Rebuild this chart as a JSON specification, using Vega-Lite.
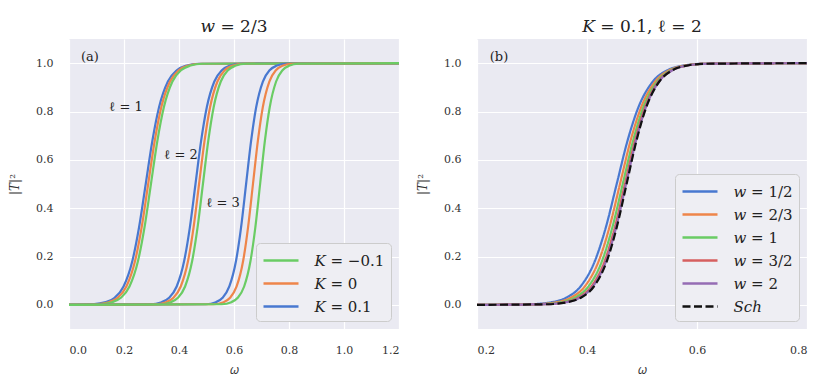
{
  "$schema": "https://vega.github.io/schema/vega-lite/v6.json",
  "background": "white",
  "padding": {"left": 8, "top": 18, "right": 5, "bottom": 5},
  "spacing": 17,
  "resolve": {"scale": {"color": "independent", "strokeDash": "independent"}, "legend": {"color": "independent", "strokeDash": "independent"}},
  "config": {
    "view": {"fill": "#EAEAF2", "stroke": null},
    "font": "DejaVu Serif",
    "axis": {"grid": true, "gridColor": "white", "gridWidth": 1.2, "domain": false, "ticks": false, "labelFont": "DejaVu Serif", "labelFontSize": 11, "labelColor": "#333333", "titleFont": "DejaVu Serif", "titleFontSize": 12, "titleFontWeight": "normal", "titleColor": "#333333"},
    "axisX": {"labelPadding": 15, "titlePadding": 9},
    "axisY": {"labelPadding": 16, "titlePadding": 14},
    "legend": {"orient": "bottom-right", "offset": 8, "fillColor": "#EEEEF3", "strokeColor": "#CCCCCC", "cornerRadius": 4, "padding": 6, "symbolType": "M-1.75,0H1.75", "symbolSize": 400, "symbolOffset": 7.5, "symbolStrokeWidth": 2.5, "labelFont": "DejaVu Serif", "labelFontSize": 15, "labelColor": "#222222", "rowPadding": 3, "labelOffset": 22},
    "title": {"font": "DejaVu Serif", "fontSize": 17, "fontWeight": "normal", "color": "#222222", "offset": 3}
  },
  "datasets": {
    "panelA": [
      {"K": "𝐾 = 0.1", "ell": 1, "omega": 0, "T2": 0},
      {"K": "𝐾 = 0.1", "ell": 1, "omega": 0.0855, "T2": 0.0025},
      {"K": "𝐾 = 0.1", "ell": 1, "omega": 0.1338, "T2": 0.011},
      {"K": "𝐾 = 0.1", "ell": 1, "omega": 0.1661, "T2": 0.0293},
      {"K": "𝐾 = 0.1", "ell": 1, "omega": 0.1984, "T2": 0.0759},
      {"K": "𝐾 = 0.1", "ell": 1, "omega": 0.2306, "T2": 0.1824},
      {"K": "𝐾 = 0.1", "ell": 1, "omega": 0.2548, "T2": 0.3208},
      {"K": "𝐾 = 0.1", "ell": 1, "omega": 0.279, "T2": 0.5},
      {"K": "𝐾 = 0.1", "ell": 1, "omega": 0.3032, "T2": 0.6792},
      {"K": "𝐾 = 0.1", "ell": 1, "omega": 0.3274, "T2": 0.8176},
      {"K": "𝐾 = 0.1", "ell": 1, "omega": 0.3596, "T2": 0.9241},
      {"K": "𝐾 = 0.1", "ell": 1, "omega": 0.3919, "T2": 0.9707},
      {"K": "𝐾 = 0.1", "ell": 1, "omega": 0.4242, "T2": 0.989},
      {"K": "𝐾 = 0.1", "ell": 1, "omega": 0.4725, "T2": 0.9975},
      {"K": "𝐾 = 0.1", "ell": 1, "omega": 1.2, "T2": 1},
      {"K": "𝐾 = 0", "ell": 1, "omega": 0, "T2": 0},
      {"K": "𝐾 = 0", "ell": 1, "omega": 0.0975, "T2": 0.0025},
      {"K": "𝐾 = 0", "ell": 1, "omega": 0.1451, "T2": 0.011},
      {"K": "𝐾 = 0", "ell": 1, "omega": 0.1769, "T2": 0.0293},
      {"K": "𝐾 = 0", "ell": 1, "omega": 0.2086, "T2": 0.0759},
      {"K": "𝐾 = 0", "ell": 1, "omega": 0.2404, "T2": 0.1824},
      {"K": "𝐾 = 0", "ell": 1, "omega": 0.2642, "T2": 0.3208},
      {"K": "𝐾 = 0", "ell": 1, "omega": 0.288, "T2": 0.5},
      {"K": "𝐾 = 0", "ell": 1, "omega": 0.3118, "T2": 0.6792},
      {"K": "𝐾 = 0", "ell": 1, "omega": 0.3356, "T2": 0.8176},
      {"K": "𝐾 = 0", "ell": 1, "omega": 0.3674, "T2": 0.9241},
      {"K": "𝐾 = 0", "ell": 1, "omega": 0.3991, "T2": 0.9707},
      {"K": "𝐾 = 0", "ell": 1, "omega": 0.4309, "T2": 0.989},
      {"K": "𝐾 = 0", "ell": 1, "omega": 0.4785, "T2": 0.9975},
      {"K": "𝐾 = 0", "ell": 1, "omega": 1.2, "T2": 1},
      {"K": "𝐾 = −0.1", "ell": 1, "omega": 0, "T2": 0},
      {"K": "𝐾 = −0.1", "ell": 1, "omega": 0.1105, "T2": 0.0025},
      {"K": "𝐾 = −0.1", "ell": 1, "omega": 0.1574, "T2": 0.011},
      {"K": "𝐾 = −0.1", "ell": 1, "omega": 0.1886, "T2": 0.0293},
      {"K": "𝐾 = −0.1", "ell": 1, "omega": 0.2199, "T2": 0.0759},
      {"K": "𝐾 = −0.1", "ell": 1, "omega": 0.2511, "T2": 0.1824},
      {"K": "𝐾 = −0.1", "ell": 1, "omega": 0.2746, "T2": 0.3208},
      {"K": "𝐾 = −0.1", "ell": 1, "omega": 0.298, "T2": 0.5},
      {"K": "𝐾 = −0.1", "ell": 1, "omega": 0.3214, "T2": 0.6792},
      {"K": "𝐾 = −0.1", "ell": 1, "omega": 0.3449, "T2": 0.8176},
      {"K": "𝐾 = −0.1", "ell": 1, "omega": 0.3761, "T2": 0.9241},
      {"K": "𝐾 = −0.1", "ell": 1, "omega": 0.4074, "T2": 0.9707},
      {"K": "𝐾 = −0.1", "ell": 1, "omega": 0.4386, "T2": 0.989},
      {"K": "𝐾 = −0.1", "ell": 1, "omega": 0.4855, "T2": 0.9975},
      {"K": "𝐾 = −0.1", "ell": 1, "omega": 1.2, "T2": 1},
      {"K": "𝐾 = 0.1", "ell": 2, "omega": 0, "T2": 0},
      {"K": "𝐾 = 0.1", "ell": 2, "omega": 0.2956, "T2": 0.0025},
      {"K": "𝐾 = 0.1", "ell": 2, "omega": 0.3367, "T2": 0.011},
      {"K": "𝐾 = 0.1", "ell": 2, "omega": 0.3641, "T2": 0.0293},
      {"K": "𝐾 = 0.1", "ell": 2, "omega": 0.3915, "T2": 0.0759},
      {"K": "𝐾 = 0.1", "ell": 2, "omega": 0.4189, "T2": 0.1824},
      {"K": "𝐾 = 0.1", "ell": 2, "omega": 0.4395, "T2": 0.3208},
      {"K": "𝐾 = 0.1", "ell": 2, "omega": 0.46, "T2": 0.5},
      {"K": "𝐾 = 0.1", "ell": 2, "omega": 0.4805, "T2": 0.6792},
      {"K": "𝐾 = 0.1", "ell": 2, "omega": 0.5011, "T2": 0.8176},
      {"K": "𝐾 = 0.1", "ell": 2, "omega": 0.5285, "T2": 0.9241},
      {"K": "𝐾 = 0.1", "ell": 2, "omega": 0.5559, "T2": 0.9707},
      {"K": "𝐾 = 0.1", "ell": 2, "omega": 0.5833, "T2": 0.989},
      {"K": "𝐾 = 0.1", "ell": 2, "omega": 0.6244, "T2": 0.9975},
      {"K": "𝐾 = 0.1", "ell": 2, "omega": 1.2, "T2": 1},
      {"K": "𝐾 = 0", "ell": 2, "omega": 0, "T2": 0},
      {"K": "𝐾 = 0", "ell": 2, "omega": 0.313, "T2": 0.0025},
      {"K": "𝐾 = 0", "ell": 2, "omega": 0.353, "T2": 0.011},
      {"K": "𝐾 = 0", "ell": 2, "omega": 0.3797, "T2": 0.0293},
      {"K": "𝐾 = 0", "ell": 2, "omega": 0.4063, "T2": 0.0759},
      {"K": "𝐾 = 0", "ell": 2, "omega": 0.433, "T2": 0.1824},
      {"K": "𝐾 = 0", "ell": 2, "omega": 0.453, "T2": 0.3208},
      {"K": "𝐾 = 0", "ell": 2, "omega": 0.473, "T2": 0.5},
      {"K": "𝐾 = 0", "ell": 2, "omega": 0.493, "T2": 0.6792},
      {"K": "𝐾 = 0", "ell": 2, "omega": 0.513, "T2": 0.8176},
      {"K": "𝐾 = 0", "ell": 2, "omega": 0.5397, "T2": 0.9241},
      {"K": "𝐾 = 0", "ell": 2, "omega": 0.5663, "T2": 0.9707},
      {"K": "𝐾 = 0", "ell": 2, "omega": 0.593, "T2": 0.989},
      {"K": "𝐾 = 0", "ell": 2, "omega": 0.633, "T2": 0.9975},
      {"K": "𝐾 = 0", "ell": 2, "omega": 1.2, "T2": 1},
      {"K": "𝐾 = −0.1", "ell": 2, "omega": 0, "T2": 0},
      {"K": "𝐾 = −0.1", "ell": 2, "omega": 0.3312, "T2": 0.0025},
      {"K": "𝐾 = −0.1", "ell": 2, "omega": 0.3701, "T2": 0.011},
      {"K": "𝐾 = −0.1", "ell": 2, "omega": 0.3961, "T2": 0.0293},
      {"K": "𝐾 = −0.1", "ell": 2, "omega": 0.4221, "T2": 0.0759},
      {"K": "𝐾 = −0.1", "ell": 2, "omega": 0.448, "T2": 0.1824},
      {"K": "𝐾 = −0.1", "ell": 2, "omega": 0.4675, "T2": 0.3208},
      {"K": "𝐾 = −0.1", "ell": 2, "omega": 0.487, "T2": 0.5},
      {"K": "𝐾 = −0.1", "ell": 2, "omega": 0.5065, "T2": 0.6792},
      {"K": "𝐾 = −0.1", "ell": 2, "omega": 0.526, "T2": 0.8176},
      {"K": "𝐾 = −0.1", "ell": 2, "omega": 0.5519, "T2": 0.9241},
      {"K": "𝐾 = −0.1", "ell": 2, "omega": 0.5779, "T2": 0.9707},
      {"K": "𝐾 = −0.1", "ell": 2, "omega": 0.6039, "T2": 0.989},
      {"K": "𝐾 = −0.1", "ell": 2, "omega": 0.6428, "T2": 0.9975},
      {"K": "𝐾 = −0.1", "ell": 2, "omega": 1.2, "T2": 1},
      {"K": "𝐾 = 0.1", "ell": 3, "omega": 0, "T2": 0},
      {"K": "𝐾 = 0.1", "ell": 3, "omega": 0.4977, "T2": 0.0025},
      {"K": "𝐾 = 0.1", "ell": 3, "omega": 0.5342, "T2": 0.011},
      {"K": "𝐾 = 0.1", "ell": 3, "omega": 0.5586, "T2": 0.0293},
      {"K": "𝐾 = 0.1", "ell": 3, "omega": 0.583, "T2": 0.0759},
      {"K": "𝐾 = 0.1", "ell": 3, "omega": 0.6074, "T2": 0.1824},
      {"K": "𝐾 = 0.1", "ell": 3, "omega": 0.6257, "T2": 0.3208},
      {"K": "𝐾 = 0.1", "ell": 3, "omega": 0.644, "T2": 0.5},
      {"K": "𝐾 = 0.1", "ell": 3, "omega": 0.6623, "T2": 0.6792},
      {"K": "𝐾 = 0.1", "ell": 3, "omega": 0.6806, "T2": 0.8176},
      {"K": "𝐾 = 0.1", "ell": 3, "omega": 0.705, "T2": 0.9241},
      {"K": "𝐾 = 0.1", "ell": 3, "omega": 0.7294, "T2": 0.9707},
      {"K": "𝐾 = 0.1", "ell": 3, "omega": 0.7538, "T2": 0.989},
      {"K": "𝐾 = 0.1", "ell": 3, "omega": 0.7903, "T2": 0.9975},
      {"K": "𝐾 = 0.1", "ell": 3, "omega": 1.2, "T2": 1},
      {"K": "𝐾 = 0", "ell": 3, "omega": 0, "T2": 0},
      {"K": "𝐾 = 0", "ell": 3, "omega": 0.5261, "T2": 0.0025},
      {"K": "𝐾 = 0", "ell": 3, "omega": 0.5619, "T2": 0.011},
      {"K": "𝐾 = 0", "ell": 3, "omega": 0.5857, "T2": 0.0293},
      {"K": "𝐾 = 0", "ell": 3, "omega": 0.6095, "T2": 0.0759},
      {"K": "𝐾 = 0", "ell": 3, "omega": 0.6333, "T2": 0.1824},
      {"K": "𝐾 = 0", "ell": 3, "omega": 0.6511, "T2": 0.3208},
      {"K": "𝐾 = 0", "ell": 3, "omega": 0.669, "T2": 0.5},
      {"K": "𝐾 = 0", "ell": 3, "omega": 0.6869, "T2": 0.6792},
      {"K": "𝐾 = 0", "ell": 3, "omega": 0.7047, "T2": 0.8176},
      {"K": "𝐾 = 0", "ell": 3, "omega": 0.7285, "T2": 0.9241},
      {"K": "𝐾 = 0", "ell": 3, "omega": 0.7523, "T2": 0.9707},
      {"K": "𝐾 = 0", "ell": 3, "omega": 0.7761, "T2": 0.989},
      {"K": "𝐾 = 0", "ell": 3, "omega": 0.8119, "T2": 0.9975},
      {"K": "𝐾 = 0", "ell": 3, "omega": 1.2, "T2": 1},
      {"K": "𝐾 = −0.1", "ell": 3, "omega": 0, "T2": 0},
      {"K": "𝐾 = −0.1", "ell": 3, "omega": 0.5555, "T2": 0.0025},
      {"K": "𝐾 = −0.1", "ell": 3, "omega": 0.5903, "T2": 0.011},
      {"K": "𝐾 = −0.1", "ell": 3, "omega": 0.6136, "T2": 0.0293},
      {"K": "𝐾 = −0.1", "ell": 3, "omega": 0.6369, "T2": 0.0759},
      {"K": "𝐾 = −0.1", "ell": 3, "omega": 0.6601, "T2": 0.1824},
      {"K": "𝐾 = −0.1", "ell": 3, "omega": 0.6776, "T2": 0.3208},
      {"K": "𝐾 = −0.1", "ell": 3, "omega": 0.695, "T2": 0.5},
      {"K": "𝐾 = −0.1", "ell": 3, "omega": 0.7124, "T2": 0.6792},
      {"K": "𝐾 = −0.1", "ell": 3, "omega": 0.7299, "T2": 0.8176},
      {"K": "𝐾 = −0.1", "ell": 3, "omega": 0.7531, "T2": 0.9241},
      {"K": "𝐾 = −0.1", "ell": 3, "omega": 0.7764, "T2": 0.9707},
      {"K": "𝐾 = −0.1", "ell": 3, "omega": 0.7997, "T2": 0.989},
      {"K": "𝐾 = −0.1", "ell": 3, "omega": 0.8345, "T2": 0.9975},
      {"K": "𝐾 = −0.1", "ell": 3, "omega": 1.2, "T2": 1}
    ],
    "panelB": [
      {"model": "𝑤 = 1/2", "omega": 0.2, "T2": 0},
      {"model": "𝑤 = 1/2", "omega": 0.2961, "T2": 0.0025},
      {"model": "𝑤 = 1/2", "omega": 0.3356, "T2": 0.011},
      {"model": "𝑤 = 1/2", "omega": 0.3619, "T2": 0.0293},
      {"model": "𝑤 = 1/2", "omega": 0.3882, "T2": 0.0759},
      {"model": "𝑤 = 1/2", "omega": 0.4145, "T2": 0.1824},
      {"model": "𝑤 = 1/2", "omega": 0.4343, "T2": 0.3208},
      {"model": "𝑤 = 1/2", "omega": 0.454, "T2": 0.5},
      {"model": "𝑤 = 1/2", "omega": 0.4737, "T2": 0.6792},
      {"model": "𝑤 = 1/2", "omega": 0.4935, "T2": 0.8176},
      {"model": "𝑤 = 1/2", "omega": 0.5198, "T2": 0.9241},
      {"model": "𝑤 = 1/2", "omega": 0.5461, "T2": 0.9707},
      {"model": "𝑤 = 1/2", "omega": 0.5724, "T2": 0.989},
      {"model": "𝑤 = 1/2", "omega": 0.6119, "T2": 0.9975},
      {"model": "𝑤 = 1/2", "omega": 0.8, "T2": 1},
      {"model": "𝑤 = 2/3", "omega": 0.2, "T2": 0},
      {"model": "𝑤 = 2/3", "omega": 0.3062, "T2": 0.0025},
      {"model": "𝑤 = 2/3", "omega": 0.3446, "T2": 0.011},
      {"model": "𝑤 = 2/3", "omega": 0.3703, "T2": 0.0293},
      {"model": "𝑤 = 2/3", "omega": 0.3959, "T2": 0.0759},
      {"model": "𝑤 = 2/3", "omega": 0.4215, "T2": 0.1824},
      {"model": "𝑤 = 2/3", "omega": 0.4408, "T2": 0.3208},
      {"model": "𝑤 = 2/3", "omega": 0.46, "T2": 0.5},
      {"model": "𝑤 = 2/3", "omega": 0.4792, "T2": 0.6792},
      {"model": "𝑤 = 2/3", "omega": 0.4985, "T2": 0.8176},
      {"model": "𝑤 = 2/3", "omega": 0.5241, "T2": 0.9241},
      {"model": "𝑤 = 2/3", "omega": 0.5497, "T2": 0.9707},
      {"model": "𝑤 = 2/3", "omega": 0.5754, "T2": 0.989},
      {"model": "𝑤 = 2/3", "omega": 0.6138, "T2": 0.9975},
      {"model": "𝑤 = 2/3", "omega": 0.8, "T2": 1},
      {"model": "𝑤 = 1", "omega": 0.2, "T2": 0},
      {"model": "𝑤 = 1", "omega": 0.315, "T2": 0.0025},
      {"model": "𝑤 = 1", "omega": 0.3525, "T2": 0.011},
      {"model": "𝑤 = 1", "omega": 0.3775, "T2": 0.0293},
      {"model": "𝑤 = 1", "omega": 0.4025, "T2": 0.0759},
      {"model": "𝑤 = 1", "omega": 0.4275, "T2": 0.1824},
      {"model": "𝑤 = 1", "omega": 0.4462, "T2": 0.3208},
      {"model": "𝑤 = 1", "omega": 0.465, "T2": 0.5},
      {"model": "𝑤 = 1", "omega": 0.4838, "T2": 0.6792},
      {"model": "𝑤 = 1", "omega": 0.5025, "T2": 0.8176},
      {"model": "𝑤 = 1", "omega": 0.5275, "T2": 0.9241},
      {"model": "𝑤 = 1", "omega": 0.5525, "T2": 0.9707},
      {"model": "𝑤 = 1", "omega": 0.5775, "T2": 0.989},
      {"model": "𝑤 = 1", "omega": 0.615, "T2": 0.9975},
      {"model": "𝑤 = 1", "omega": 0.8, "T2": 1},
      {"model": "𝑤 = 3/2", "omega": 0.2, "T2": 0},
      {"model": "𝑤 = 3/2", "omega": 0.3227, "T2": 0.0025},
      {"model": "𝑤 = 3/2", "omega": 0.3592, "T2": 0.011},
      {"model": "𝑤 = 3/2", "omega": 0.3836, "T2": 0.0293},
      {"model": "𝑤 = 3/2", "omega": 0.408, "T2": 0.0759},
      {"model": "𝑤 = 3/2", "omega": 0.4324, "T2": 0.1824},
      {"model": "𝑤 = 3/2", "omega": 0.4507, "T2": 0.3208},
      {"model": "𝑤 = 3/2", "omega": 0.469, "T2": 0.5},
      {"model": "𝑤 = 3/2", "omega": 0.4873, "T2": 0.6792},
      {"model": "𝑤 = 3/2", "omega": 0.5056, "T2": 0.8176},
      {"model": "𝑤 = 3/2", "omega": 0.53, "T2": 0.9241},
      {"model": "𝑤 = 3/2", "omega": 0.5544, "T2": 0.9707},
      {"model": "𝑤 = 3/2", "omega": 0.5788, "T2": 0.989},
      {"model": "𝑤 = 3/2", "omega": 0.6153, "T2": 0.9975},
      {"model": "𝑤 = 3/2", "omega": 0.8, "T2": 1},
      {"model": "𝑤 = 2", "omega": 0.2, "T2": 0},
      {"model": "𝑤 = 2", "omega": 0.3264, "T2": 0.0025},
      {"model": "𝑤 = 2", "omega": 0.3626, "T2": 0.011},
      {"model": "𝑤 = 2", "omega": 0.3867, "T2": 0.0293},
      {"model": "𝑤 = 2", "omega": 0.4108, "T2": 0.0759},
      {"model": "𝑤 = 2", "omega": 0.4349, "T2": 0.1824},
      {"model": "𝑤 = 2", "omega": 0.4529, "T2": 0.3208},
      {"model": "𝑤 = 2", "omega": 0.471, "T2": 0.5},
      {"model": "𝑤 = 2", "omega": 0.4891, "T2": 0.6792},
      {"model": "𝑤 = 2", "omega": 0.5071, "T2": 0.8176},
      {"model": "𝑤 = 2", "omega": 0.5312, "T2": 0.9241},
      {"model": "𝑤 = 2", "omega": 0.5553, "T2": 0.9707},
      {"model": "𝑤 = 2", "omega": 0.5794, "T2": 0.989},
      {"model": "𝑤 = 2", "omega": 0.6156, "T2": 0.9975},
      {"model": "𝑤 = 2", "omega": 0.8, "T2": 1},
      {"model": "𝑆𝑐ℎ", "omega": 0.2, "T2": 0},
      {"model": "𝑆𝑐ℎ", "omega": 0.3291, "T2": 0.0025},
      {"model": "𝑆𝑐ℎ", "omega": 0.3649, "T2": 0.011},
      {"model": "𝑆𝑐ℎ", "omega": 0.3887, "T2": 0.0293},
      {"model": "𝑆𝑐ℎ", "omega": 0.4125, "T2": 0.0759},
      {"model": "𝑆𝑐ℎ", "omega": 0.4363, "T2": 0.1824},
      {"model": "𝑆𝑐ℎ", "omega": 0.4541, "T2": 0.3208},
      {"model": "𝑆𝑐ℎ", "omega": 0.472, "T2": 0.5},
      {"model": "𝑆𝑐ℎ", "omega": 0.4899, "T2": 0.6792},
      {"model": "𝑆𝑐ℎ", "omega": 0.5077, "T2": 0.8176},
      {"model": "𝑆𝑐ℎ", "omega": 0.5315, "T2": 0.9241},
      {"model": "𝑆𝑐ℎ", "omega": 0.5553, "T2": 0.9707},
      {"model": "𝑆𝑐ℎ", "omega": 0.5791, "T2": 0.989},
      {"model": "𝑆𝑐ℎ", "omega": 0.6149, "T2": 0.9975},
      {"model": "𝑆𝑐ℎ", "omega": 0.8, "T2": 1}
    ],
    "notesA": [
      {"label": "(a)", "omega": 0.076, "T2": 1.025, "size": 13},
      {"label": "ℓ = 1", "omega": 0.207, "T2": 0.82, "size": 13},
      {"label": "ℓ = 2", "omega": 0.407, "T2": 0.62, "size": 13},
      {"label": "ℓ = 3", "omega": 0.56, "T2": 0.42, "size": 13}
    ],
    "notesB": [
      {"label": "(b)", "omega": 0.24, "T2": 1.025, "size": 13}
    ]
  },
  "hconcat": [
    {
      "width": 330,
      "height": 290,
      "title": "𝑤 = 2/3",
      "layer": [
        {
          "data": {"name": "panelA"},
          "mark": {"type": "line", "strokeWidth": 2.2, "interpolate": "monotone", "clip": true},
          "encoding": {
            "x": {"field": "omega", "type": "quantitative", "scale": {"domain": [0, 1.2], "nice": false, "zero": false}, "axis": {"values": [0, 0.2, 0.4, 0.6, 0.8, 1.0, 1.2], "format": ".1f", "title": "𝜔"}},
            "y": {"field": "T2", "type": "quantitative", "scale": {"domain": [-0.1, 1.1], "nice": false, "zero": false}, "axis": {"values": [0, 0.2, 0.4, 0.6, 0.8, 1.0], "format": ".1f", "title": "|𝑇|²"}},
            "color": {"field": "K", "type": "nominal", "scale": {"domain": ["𝐾 = −0.1", "𝐾 = 0", "𝐾 = 0.1"], "range": ["#6acc64", "#ee854a", "#4878d0"]}, "legend": {"title": null}},
            "detail": {"field": "ell", "type": "nominal"}
          }
        },
        {
          "data": {"name": "notesA"},
          "mark": {"type": "text", "align": "center", "baseline": "middle", "color": "#222222", "font": "DejaVu Serif"},
          "encoding": {
            "x": {"field": "omega", "type": "quantitative"},
            "y": {"field": "T2", "type": "quantitative"},
            "text": {"field": "label"},
            "size": {"field": "size", "type": "quantitative", "scale": null}
          }
        }
      ]
    },
    {
      "width": 330,
      "height": 290,
      "title": "𝐾 = 0.1, ℓ = 2",
      "layer": [
        {
          "data": {"name": "panelB"},
          "mark": {"type": "line", "strokeWidth": 2.2, "interpolate": "monotone", "clip": true},
          "encoding": {
            "x": {"field": "omega", "type": "quantitative", "scale": {"domain": [0.2, 0.8], "nice": false, "zero": false}, "axis": {"values": [0.2, 0.4, 0.6, 0.8], "format": ".1f", "title": "𝜔"}},
            "y": {"field": "T2", "type": "quantitative", "scale": {"domain": [-0.1, 1.1], "nice": false, "zero": false}, "axis": {"values": [0, 0.2, 0.4, 0.6, 0.8, 1.0], "format": ".1f", "title": "|𝑇|²"}},
            "color": {"field": "model", "type": "nominal", "scale": {"domain": ["𝑤 = 1/2", "𝑤 = 2/3", "𝑤 = 1", "𝑤 = 3/2", "𝑤 = 2", "𝑆𝑐ℎ"], "range": ["#4878d0", "#ee854a", "#6acc64", "#d65f5f", "#956cb4", "#111111"]}, "legend": {"title": null}},
            "strokeDash": {"field": "model", "type": "nominal", "scale": {"domain": ["𝑤 = 1/2", "𝑤 = 2/3", "𝑤 = 1", "𝑤 = 3/2", "𝑤 = 2", "𝑆𝑐ℎ"], "range": [[1, 0], [1, 0], [1, 0], [1, 0], [1, 0], [8, 3.5]]}, "legend": {"title": null}}
          }
        },
        {
          "data": {"name": "notesB"},
          "mark": {"type": "text", "align": "center", "baseline": "middle", "color": "#222222", "font": "DejaVu Serif"},
          "encoding": {
            "x": {"field": "omega", "type": "quantitative"},
            "y": {"field": "T2", "type": "quantitative"},
            "text": {"field": "label"},
            "size": {"field": "size", "type": "quantitative", "scale": null}
          }
        }
      ]
    }
  ]
}
